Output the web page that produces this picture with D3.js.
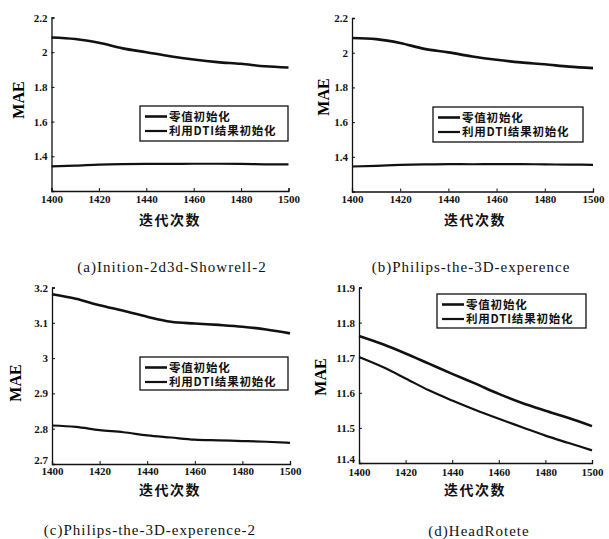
<!DOCTYPE html>
<html>
<head>
<meta charset="utf-8">
<title>MAE vs iterations</title>
<script src="https://d3js.org/d3.v7.min.js"></script>
<style>
  body { margin: 0; background: #fff; }
  .tick text { font-family: "Liberation Serif", serif; font-size: 11px; font-weight: bold; fill: #111; }
  .tick line, .domain { stroke: #111; }
  .lab { font-family: "Noto Sans CJK SC", sans-serif; font-weight: bold; fill: #111; }
  .cap { font-family: "Liberation Serif", serif; font-size: 15px; fill: #111; letter-spacing: 1px; }
</style>
</head>
<body>
<div id="chart"></div>
<script>
// iterations on the x axis
var iters = [1400, 1410, 1420, 1430, 1440, 1450, 1460, 1470, 1480, 1490, 1500];
var xTicks = [1400, 1420, 1440, 1460, 1480, 1500];
var seriesNames = ["零值初始化", "利用DTI结果初始化"];

// (a) Inition-2d3d-Showrell-2
var zeroA = [2.085, 2.076, 2.054, 2.022, 2.0, 1.977, 1.958, 1.943, 1.933, 1.919, 1.912];
var dtiA  = [1.342, 1.346, 1.352, 1.355, 1.356, 1.356, 1.357, 1.357, 1.356, 1.354, 1.353];
// (b) Philips-the-3D-experence
var zeroB = [2.085, 2.078, 2.056, 2.022, 2.002, 1.978, 1.959, 1.944, 1.933, 1.92, 1.911];
var dtiB  = [1.344, 1.348, 1.353, 1.356, 1.358, 1.357, 1.358, 1.358, 1.356, 1.355, 1.354];
// (c) Philips-the-3D-experence-2
var zeroC = [3.181, 3.168, 3.15, 3.134, 3.117, 3.103, 3.098, 3.094, 3.089, 3.081, 3.07];
var dtiC  = [2.809, 2.805, 2.796, 2.79, 2.781, 2.775, 2.769, 2.767, 2.765, 2.763, 2.76];
// (d) HeadRotete
var zeroD = [11.762, 11.739, 11.712, 11.683, 11.654, 11.626, 11.597, 11.571, 11.549, 11.528, 11.505];
var dtiD  = [11.702, 11.674, 11.641, 11.607, 11.578, 11.551, 11.526, 11.502, 11.478, 11.457, 11.436];

var yTicksAB = [1.4, 1.6, 1.8, 2, 2.2];
var yTicksC = [2.7, 2.8, 2.9, 3, 3.1, 3.2];
var yTicksD = [11.4, 11.5, 11.6, 11.7, 11.8, 11.9];

var width = 609, height = 539;
var svg = d3.select("#chart").append("svg")
    .attr("width", width).attr("height", height);

var panels = [
  {zero: zeroA, dti: dtiA, yDom: [1.2, 2.2], yTicks: yTicksAB, x0: 51.5, x1: 288.5, yTop: 17.5, yBot: 191, pad: 4,
   leg: [140, 106, 148, 35], xl: [170, 225], yl: [18, 100], cap: "(a)Inition-2d3d-Showrell-2", cx: 172, cy: 272},
  {zero: zeroB, dti: dtiB, yDom: [1.2, 2.2], yTicks: yTicksAB, x0: 352, x1: 593, yTop: 18, yBot: 191.5, pad: 4,
   leg: [433, 107, 150, 35], xl: [475, 225], yl: [323, 97], cap: "(b)Philips-the-3D-experence", cx: 471, cy: 272},
  {zero: zeroC, dti: dtiC, yDom: [2.7, 3.2], yTicks: yTicksC, x0: 52, x1: 290, yTop: 287.5, yBot: 464, pad: 3,
   leg: [140, 357, 148, 33], xl: [170, 495], yl: [15, 383], cap: "(c)Philips-the-3D-experence-2", cx: 150, cy: 535},
  {zero: zeroD, dti: dtiD, yDom: [11.4, 11.9], yTicks: yTicksD, x0: 359, x1: 592, yTop: 287.5, yBot: 463, pad: 5,
   leg: [437, 294, 149, 34], xl: [475, 495], yl: [320, 377], cap: "(d)HeadRotete", cx: 479, cy: 536}
];

panels.forEach(function(p) {
  var x = d3.scaleLinear().domain([1400, 1500]).range([p.x0, p.x1]);
  var y = d3.scaleLinear().domain(p.yDom).range([p.yBot, p.yTop]);
  var g = svg.append("g");

  var fmt = function(d) { return String(+d.toFixed(2)); };
  g.append("g")
    .attr("transform", "translate(0," + p.yBot + ")")
    .call(d3.axisBottom(x).tickValues(xTicks).tickSize(-3).tickPadding(p.pad).tickFormat(d3.format("d")));
  var ya = g.append("g")
    .attr("transform", "translate(" + p.x0 + ",0)")
    .call(d3.axisLeft(y).tickValues(p.yTicks).tickSize(-3).tickPadding(4).tickFormat(fmt));
  // lowest y label sits just above the x labels, as in the scan
  ya.selectAll(".tick text").filter(function(d) { return d === p.yDom[0]; })
    .attr("dy", "-0.05em");
  g.selectAll(".domain").attr("stroke-width", 1.3);

  var line = d3.line()
    .x(function(d, i) { return x(iters[i]); })
    .y(function(d) { return y(d); })
    .curve(d3.curveMonotoneX);
  [p.zero, p.dti].forEach(function(s, k) {
    g.append("path").datum(s)
      .attr("d", line)
      .attr("fill", "none")
      .attr("stroke", "#111")
      .attr("stroke-width", k === 0 ? 2.6 : 2.2);
  });

  // legend
  var lg = g.append("g").attr("transform", "translate(" + p.leg[0] + "," + p.leg[1] + ")");
  lg.append("rect").attr("width", p.leg[2]).attr("height", p.leg[3])
    .attr("fill", "#fff").attr("stroke", "#111").attr("stroke-width", 1.3);
  seriesNames.forEach(function(name, k) {
    var yy = 10.5 + k * 14.5;
    lg.append("line").attr("x1", 5).attr("x2", 27).attr("y1", yy).attr("y2", yy)
      .attr("stroke", "#111").attr("stroke-width", k === 0 ? 2.6 : 2.2);
    lg.append("text").attr("class", "lab").attr("x", 29).attr("y", yy + 4)
      .style("font-size", "11.5px").style("letter-spacing", "0.8px").text(name);
  });

  g.append("text").attr("class", "lab")
    .attr("x", p.xl[0]).attr("y", p.xl[1])
    .attr("text-anchor", "middle")
    .style("font-size", "14px").style("letter-spacing", "1.5px")
    .text("迭代次数");
  g.append("text")
    .attr("transform", "translate(" + p.yl[0] + "," + p.yl[1] + ") rotate(-90)")
    .attr("text-anchor", "middle").attr("dy", "0.35em")
    .style("font-family", "Liberation Serif, serif").style("font-size", "16px").style("font-weight", "bold")
    .text("MAE");
  g.append("text").attr("class", "cap")
    .attr("x", p.cx).attr("y", p.cy).attr("text-anchor", "middle")
    .text(p.cap);
});
</script>
</body>
</html>
